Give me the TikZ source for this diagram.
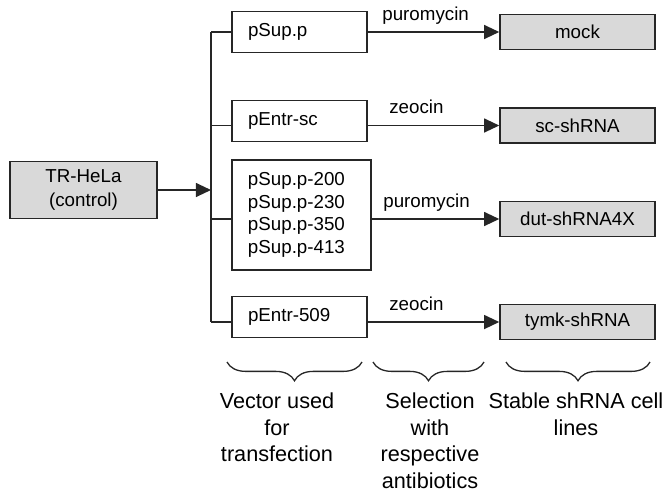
\documentclass[tikz,border=0pt]{standalone}
\usepackage{fontspec}
\setmainfont{Liberation Sans}
\usetikzlibrary{arrows.meta, decorations.pathreplacing}
\definecolor{cellgray}{HTML}{D9D9D9}
\definecolor{edge}{HTML}{262626}
\tikzstyle{parent} = [
    rectangle, 
    minimum width=4.41cm, 
    minimum height=1.71cm,
    align=center, 
    draw=edge, 
    line width=1.3pt,
    fill=cellgray,
    font=\fontsize{16}{21}\selectfont
]
\tikzstyle{vector} = [
    rectangle, 
    text width=3.09cm, 
    inner xsep=0.48cm,
    minimum height=1.23cm, 
    align=left, 
    draw=edge, 
    line width=1.3pt,
    fill=white,
    font=\fontsize{16}{19.3}\selectfont
]
\tikzstyle{cellline} = [
    rectangle, 
    minimum width=4.65cm, 
    minimum height=1.05cm, 
    text centered, 
    draw=edge, 
    line width=1.3pt,
    fill=cellgray,
    font=\fontsize{16}{19.3}\selectfont
]
\tikzstyle{arrow} = [
    line width=1.3pt, 
    draw=edge,
    -{Triangle[length=13pt, width=12pt]}
]
\tikzstyle{line} = [
    line width=1.3pt,
    draw=edge
]
\tikzstyle{drug} = [
    anchor=base,
    yshift=10pt,
    inner sep=0pt,
    font=\fontsize{16}{19}\selectfont
]
\tikzstyle{group} = [
    decorate,
    decoration={brace, mirror, amplitude=16pt},
    line width=1.1pt,
    draw=edge
]
\tikzstyle{caption} = [
    anchor=north,
    align=center,
    inner sep=0pt,
    font=\fontsize{18.5}{22.6}\selectfont
]

\begin{document}
\begin{tikzpicture}[x=0.03cm, y=-0.03cm, node distance=1cm]
        \useasboundingbox (0,0) rectangle (667,492);

        \node (hela) [parent] at (83.5,190) {TR-HeLa\\(control)};
        \node (v1) [vector] at (299.5,32) {pSup.p};
        \node (v2) [vector, below of=v1, yshift=-1.67cm] {pEntr-sc};
        \node (v3) [vector, below of=v2, yshift=-1.82cm, xshift=0.06cm, text width=3.21cm, minimum height=3.3cm] {pSup.p-200\\pSup.p-230\\pSup.p-350\\pSup.p-413};
        \node (v4) [vector, below of=v3, yshift=-2.06cm, xshift=-0.06cm] {pEntr-509};

        \node (r1) [cellline, right of=v1, xshift=7.34cm] {mock};
        \node (r2) [cellline, below of=r1, yshift=-1.805cm] {sc-shRNA};
        \node (r3) [cellline, below of=r2, yshift=-1.805cm] {dut-shRNA4X};
        \node (r4) [cellline, below of=r3, yshift=-2.09cm] {tymk-shRNA};

        \coordinate (bus) at (211,190);
        \draw[arrow] (hela) -- (bus);
        \draw[line] (bus |- r1) -- (bus |- r4);
        \foreach \i in {1,...,4}
            \draw[line] (bus |- r\i) -- (v\i.west |- r\i);

        \draw[arrow] (v1.east |- r1) -- node[drug, pos=0.44] {puromycin} (r1);
        \draw[arrow] (v2.east |- r2) -- node[drug, pos=0.37] {zeocin} (r2);
        \draw[arrow] (v3.east |- r3) -- node[drug, pos=0.43] {puromycin} (r3);
        \draw[arrow] (v4.east |- r4) -- node[drug, pos=0.37] {zeocin} (r4);

        \coordinate (g1a) at (227,362);
        \coordinate (g1b) at (362,362);
        \coordinate (g2a) at (373,362);
        \coordinate (g2b) at (484,362);
        \coordinate (g3a) at (506,362);
        \coordinate (g3b) at (650,362);
        \draw[group] (g1a) -- (g1b);
        \draw[group] (g2a) -- (g2b);
        \draw[group] (g3a) -- (g3b);

        \node (vecnote) [caption] at (277,393) {Vector used\\for\\transfection};
        \node (selnote) [caption] at (430,393) {Selection\\with\\respective\\antibiotics};
        \node (linenote) [caption] at (576,393) {Stable shRNA cell\\lines};
    \end{tikzpicture}
\end{document}
